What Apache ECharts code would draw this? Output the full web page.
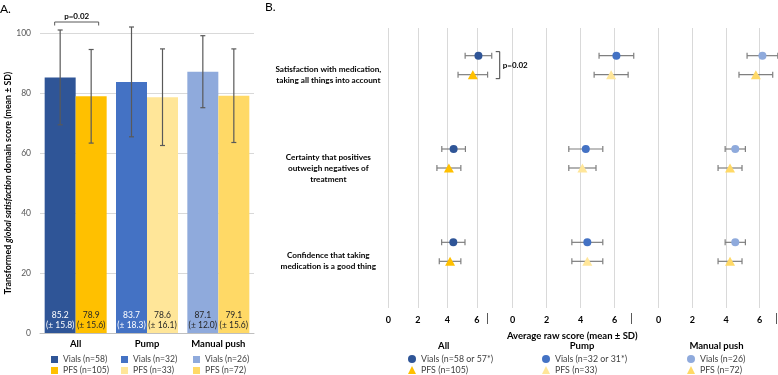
<!DOCTYPE html>
<html>
<head>
<meta charset="utf-8">
<script src="https://cdn.jsdelivr.net/npm/echarts@6/dist/echarts.min.js"></script>
<style>
  html, body { margin: 0; padding: 0; background: #fff; }
  #main { width: 778px; height: 375px; }
</style>
</head>
<body>
<div id="main"></div>
<script>
// ---- panel A: transformed global satisfaction score ----
const groups = ["All", "Pump", "Manual push"];
const vialsMean = [85.2, 83.7, 87.1];
const vialsSd = [15.8, 18.3, 12.0];
const pfsMean = [78.9, 78.6, 79.1];
const pfsSd = [15.6, 16.1, 15.6];
const vialsNames = ["Vials (n=58)", "Vials (n=32)", "Vials (n=26)"];
const pfsNames = ["PFS (n=105)", "PFS (n=33)", "PFS (n=72)"];

// ---- panel B: average raw score per question ----
const questions = [
  "Satisfaction with medication,\ntaking all things into account",
  "Certainty that positives\noutweigh negatives of\ntreatment",
  "Confidence that taking\nmedication is a good thing"
];
const allVialsMean = [6.1, 4.42, 4.4];
const allVialsSd = [0.9, 0.8, 0.79];
const allPfsMean = [5.72, 4.1, 4.18];
const allPfsSd = [1.0, 0.81, 0.73];
const pumpVialsMean = [6.1, 4.3, 4.39];
const pumpVialsSd = [1.02, 1.0, 0.91];
const pumpPfsMean = [5.79, 4.1, 4.39];
const pumpPfsSd = [1.0, 0.8, 0.91];
const pushVialsMean = [6.16, 4.55, 4.55];
const pushVialsSd = [0.91, 0.6, 0.6];
const pushPfsMean = [5.77, 4.24, 4.24];
const pushPfsSd = [1.0, 0.71, 0.71];
const rawVialsNames = ["Vials (n=58 or 57*)", "Vials (n=32 or 31*)", "Vials (n=26)"];
const rawPfsNames = ["PFS (n=105)", "PFS (n=33)", "PFS (n=72)"];
const rawAxisMax = [6.7, 7, 7];

// styles
const FONT = "Lato, 'Liberation Sans', sans-serif";
const VIAL_COLORS = ["#2F5597", "#4472C4", "#8FAADC"];
const PFS_COLORS = ["#FFC000", "#FFE699", "#FFD966"];
const VIAL_LABEL = ["#ffffff", "#ffffff", "#262626"];
const BAR_W = 31;
const ERR = "#595959";
const GRID_B = [
  { left: 388.3, right: 290.7, top: 28, bottom: 67 },
  { left: 512.7, right: 146.3, top: 28, bottom: 67 },
  { left: 658.5, right: 1.4, top: 28, bottom: 67 }
];

const chart = echarts.init(document.getElementById("main"));

function barSeries(name, stack, g, means, sds, color, labelColor) {
  return {
    type: "bar", name: name, stack: stack, xAxisIndex: 0, yAxisIndex: 0,
    barWidth: BAR_W, barGap: "0%",
    data: groups.map((_, j) => (j === g ? means[g] : "-")),
    itemStyle: { color: color },
    label: {
      show: true, position: "insideBottom", distance: 2,
      fontSize: 8.5, lineHeight: 10.5, color: labelColor, fontFamily: FONT,
      formatter: p => p.value + "\n(± " + sds[g].toFixed(1) + ")"
    }
  };
}

function barErrors(means, sds, side) {
  return {
    type: "custom", xAxisIndex: 0, yAxisIndex: 0, z: 5, silent: true,
    encode: { x: 0, y: 1 },
    data: means.map((m, i) => [i, m, sds[i]]),
    renderItem: (params, api) => {
      const i = api.value(0), m = api.value(1), s = api.value(2);
      const x = api.coord([i, m])[0] + side * BAR_W / 2;
      const top = api.coord([i, m + s])[1];
      const bot = api.coord([i, m - s])[1];
      const st = { stroke: ERR, lineWidth: 1.2 };
      return { type: "group", children: [
        { type: "line", shape: { x1: x, y1: top, x2: x, y2: bot }, style: st },
        { type: "line", shape: { x1: x - 2.5, y1: top, x2: x + 2.5, y2: top }, style: st },
        { type: "line", shape: { x1: x - 2.5, y1: bot, x2: x + 2.5, y2: bot }, style: st }
      ] };
    }
  };
}

function rawErrors(k, means, sds, offset) {
  return {
    type: "custom", xAxisIndex: 1 + k, yAxisIndex: 1 + k, z: 2, silent: true,
    encode: { x: 0, y: 1 },
    data: means.map((m, i) => [m, i, sds[i]]),
    renderItem: (params, api) => {
      const m = api.value(0), i = api.value(1), s = api.value(2);
      const y = api.coord([m, i])[1] + offset;
      const l = api.coord([m - s, i])[0];
      const r = api.coord([m + s, i])[0];
      const st = { stroke: "#7f7f7f", lineWidth: 1.2 };
      return { type: "group", children: [
        { type: "line", shape: { x1: l, y1: y, x2: r, y2: y }, style: st },
        { type: "line", shape: { x1: l, y1: y - 3, x2: l, y2: y + 3 }, style: st },
        { type: "line", shape: { x1: r, y1: y - 3, x2: r, y2: y + 3 }, style: st }
      ] };
    }
  };
}

function rawPoints(k, name, means, symbol, size, color, offset) {
  return {
    type: "scatter", name: name, xAxisIndex: 1 + k, yAxisIndex: 1 + k, z: 3,
    symbol: symbol, symbolSize: size, symbolOffset: [0, offset],
    itemStyle: { color: color, opacity: 1 },
    data: means.map((m, i) => [m, i])
  };
}

const series = [];
for (let g = 0; g < 3; g++) {
  series.push(barSeries(vialsNames[g], "vials", g, vialsMean, vialsSd, VIAL_COLORS[g], VIAL_LABEL[g]));
  series.push(barSeries(pfsNames[g], "pfs", g, pfsMean, pfsSd, PFS_COLORS[g], "#262626"));
}
series.push(barErrors(vialsMean, vialsSd, -1));
series.push(barErrors(pfsMean, pfsSd, 1));
// p-value bracket, panel A
series.push({
  type: "custom", xAxisIndex: 0, yAxisIndex: 0, z: 6, silent: true,
  encode: { x: 0, y: 1 },
  data: [[0, Math.max(vialsMean[0] + vialsSd[0], pfsMean[0] + pfsSd[0])]],
  renderItem: (params, api) => {
    const c = api.coord([api.value(0), api.value(1)]);
    const y = c[1] - 8, x1 = c[0] - 21, x2 = c[0] + 23;
    return { type: "group", children: [
      { type: "polyline", shape: { points: [[x1, y + 3.5], [x1, y], [x2, y], [x2, y + 3.5]] },
        style: { stroke: ERR, lineWidth: 1, fill: null } },
      { type: "text", x: (x1 + x2) / 2, y: y - 5.5,
        style: { text: "p=0.02", align: "center", verticalAlign: "middle",
                 font: "bold 8px " + FONT, fill: "#000" } }
    ] };
  }
});

const rawSets = [
  [allVialsMean, allVialsSd, allPfsMean, allPfsSd],
  [pumpVialsMean, pumpVialsSd, pumpPfsMean, pumpPfsSd],
  [pushVialsMean, pushVialsSd, pushPfsMean, pushPfsSd]
];
rawSets.forEach((set, k) => {
  series.push(rawErrors(k, set[0], set[1], -19));
  series.push(rawErrors(k, set[2], set[3], 0));
  series.push(rawPoints(k, rawVialsNames[k], set[0], "circle", 8, VIAL_COLORS[k], -19));
  series.push(rawPoints(k, rawPfsNames[k], set[2], "triangle", [10, 9], PFS_COLORS[k], 0));
});
// p-value bracket, panel B (All)
series.push({
  type: "custom", xAxisIndex: 1, yAxisIndex: 1, z: 6, silent: true,
  encode: { x: 0, y: 1 },
  data: [[Math.max(allVialsMean[0] + allVialsSd[0], allPfsMean[0] + allPfsSd[0]), 0]],
  renderItem: (params, api) => {
    const c = api.coord([api.value(0), api.value(1)]);
    const x = c[0] + 8, top = c[1] - 23, bot = c[1] + 4;
    return { type: "group", children: [
      { type: "polyline", shape: { points: [[x - 4, top], [x, top], [x, bot], [x - 4, bot]] },
        style: { stroke: "#404040", lineWidth: 1, fill: null } },
      { type: "text", x: x + 3, y: (top + bot) / 2,
        style: { text: "p=0.02", align: "left", verticalAlign: "middle",
                 font: "bold 8px " + FONT, fill: "#000" } }
    ] };
  }
});

const xAxes = [{
  type: "category", gridIndex: 0, data: groups,
  axisLine: { lineStyle: { color: "#bfbfbf" } }, axisTick: { show: false },
  axisLabel: { fontSize: 9.5, fontWeight: "bold", color: "#000", margin: 6, fontFamily: FONT }
}];
const yAxes = [{
  type: "value", gridIndex: 0, min: 0, max: 100, interval: 20,
  name: "{b|Transformed }{i|global satisfaction}{b| domain score (mean ± SD)}",
  nameLocation: "middle", nameGap: 27,
  nameTextStyle: {
    rich: {
      b: { fontSize: 8.8, fontWeight: "bold", color: "#000", fontFamily: FONT },
      i: { fontSize: 8.8, fontWeight: "bold", fontStyle: "italic", color: "#000", fontFamily: FONT }
    }
  },
  axisLine: { show: false }, axisTick: { show: false },
  splitLine: { lineStyle: { color: "#d9d9d9" } },
  axisLabel: { fontSize: 8.5, color: "#595959", margin: 9, fontFamily: FONT }
}];
for (let k = 0; k < 3; k++) {
  xAxes.push({
    type: "value", gridIndex: 1 + k, min: 0, max: rawAxisMax[k], interval: 2,
    name: k === 1 ? "Average raw score (mean ± SD)" : "",
    nameLocation: "middle", nameGap: 23,
    nameTextStyle: { fontSize: 9.5, fontWeight: "bold", color: "#000", fontFamily: FONT },
    axisLine: { show: false }, axisTick: { show: false },
    splitLine: { show: true, showMaxLine: false, lineStyle: { color: "#d9d9d9" } },
    axisLabel: { fontSize: 9, fontWeight: "bold", color: "#000", margin: 8,
                 showMaxLabel: false, fontFamily: FONT }
  });
  yAxes.push({
    type: "category", gridIndex: 1 + k, data: questions, inverse: true,
    axisLine: { show: false }, axisTick: { show: false }, splitLine: { show: false },
    axisLabel: { show: k === 0, align: "center", margin: 60, fontSize: 8.2, lineHeight: 11,
                 fontWeight: "bold", color: "#000", fontFamily: FONT }
  });
}
// short separators at the end of each raw-score panel
for (let k = 0; k < 3; k++) {
  xAxes.push({
    type: "value", gridIndex: 1 + k, min: 0, max: rawAxisMax[k], position: "bottom", offset: 5,
    axisLine: { show: false }, axisLabel: { show: false }, splitLine: { show: false },
    axisTick: { show: true, customValues: [rawAxisMax[k]], length: 11, lineStyle: { color: "#595959" } }
  });
}

const legendText = { fontSize: 8.6, lineHeight: 11, color: "#404040", fontFamily: FONT };
const legends = [];
const legALeft = [51, 121, 193];
for (let g = 0; g < 3; g++) {
  legends.push({
    orient: "vertical", left: legALeft[g], top: 354, height: 40, padding: 0,
    itemGap: 0, itemWidth: 7, itemHeight: 7,
    textStyle: legendText, selectedMode: false,
    data: [
      { name: vialsNames[g], icon: "rect", itemStyle: { color: VIAL_COLORS[g] } },
      { name: pfsNames[g], icon: "rect", itemStyle: { color: PFS_COLORS[g] } }
    ]
  });
}
const legBLeft = [408, 542, 687];
for (let k = 0; k < 3; k++) {
  legends.push({
    orient: "vertical", left: legBLeft[k], top: 353.5, height: 40, padding: 0,
    itemGap: 0, itemWidth: 8, itemHeight: 8,
    textStyle: Object.assign({}, legendText, { fontSize: 8.8 }), selectedMode: false,
    data: [
      { name: rawVialsNames[k], icon: "circle", itemStyle: { color: VIAL_COLORS[k] } },
      { name: rawPfsNames[k], icon: "triangle", itemStyle: { color: PFS_COLORS[k] } }
    ]
  });
}

const heads = [["All", 443.7], ["Pump", 582], ["Manual push", 716.5]];
const graphic = [
  { type: "text", left: 0, top: 3, style: { text: "A.", font: "12px " + FONT, fill: "#000" } },
  { type: "text", left: 265, top: 1, style: { text: "B.", font: "12px " + FONT, fill: "#000" } }
].concat(heads.map(h => ({
  type: "text", x: h[1], y: 346,
  style: { text: h[0], align: "center", verticalAlign: "middle", font: "bold 9.5px " + FONT, fill: "#000" }
})));

chart.setOption({
  animation: false,
  textStyle: { fontFamily: FONT },
  grid: [{ left: 40, right: 524, top: 33, bottom: 42 }].concat(GRID_B),
  xAxis: xAxes,
  yAxis: yAxes,
  legend: legends,
  graphic: graphic,
  series: series
});
</script>
</body>
</html>
